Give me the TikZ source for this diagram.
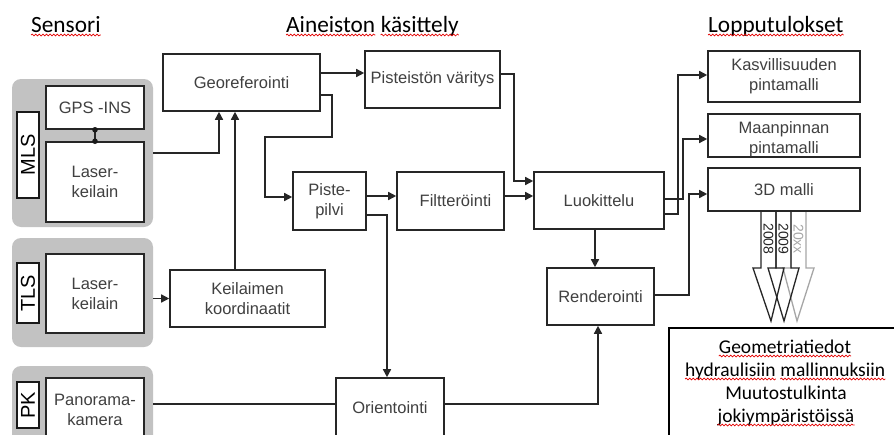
\documentclass[tikz,border=0pt]{standalone}
\usepackage{fontspec}
\newfontfamily\af{Liberation Sans}
\newfontfamily\cf{Carlito}
\usetikzlibrary{arrows.meta,decorations.pathmorphing}
\newcommand\bigarr[5]{%
  \draw[line width=1.3pt, draw=#3] (#1,212) -- (#1,268) -- (#1-8,268) -- (#2,321) -- (#1+23,268) -- (#1+15,268) -- (#1+15,212);
  \node[rotate=-90, inner sep=0pt, font=\af\fontsize{14}{14}\selectfont, text=#3] (#5) at (#1+7.5,239) {#4};
}
\begin{document}
\begin{tikzpicture}[x=1pt,y=-1pt,
  grp/.style={fill=black!24, rounded corners=9pt, inner sep=0pt},
  box/.style={draw=black!85, line width=1.6pt, fill=white, inner sep=0pt, align=center,
    font=\af\fontsize{16.5}{20}\selectfont, text=black!75},
  boxtxt/.style={inner sep=0pt, align=center, font=\af\fontsize{16.5}{20}\selectfont, text=black!75},
  lbl/.style={draw=black!90, line width=1.6pt, fill=white, inner sep=0pt, rotate=90,
    font=\af\fontsize{20}{20}\selectfont, text=black},
  arr/.style={line width=1.5pt, draw=black!85, -{Triangle[length=8pt,width=8pt]}},
  conn/.style={line width=1.5pt, draw=black!85},
  hdr/.style={inner sep=0pt, anchor=base west, font=\cf\fontsize{23.3}{28}\selectfont},
  fin/.style={inner sep=0pt, font=\cf\fontsize{19.5}{23}\selectfont},
  wavy/.style={draw=red!90!black, line width=0.7pt, decorate,
    decoration={snake, amplitude=0.9pt, segment length=3.6pt}}
]
\useasboundingbox (0,0) rectangle (894,434);
\clip (0,0) rectangle (894,434);
\fill[white] (0,0) rectangle (894,434);

% headers
\node[hdr] (hsens) at (31,32) {Sensori};
\node[hdr] (hain1) at (286,32) {Aineiston};
\node[hdr] (hain2) at ([xshift=5.3pt]hain1.base east) {käsittely};
\node[hdr] (hlop) at (708,32) {Lopputulokset};
\foreach \w in {hsens,hain1,hain2,hlop}
  \draw[wavy] ([yshift=-3pt]\w.base west) -- ([yshift=-3pt]\w.base east);

% sensor groups
\node[grp, minimum width=141pt, minimum height=148pt] (mlsg) at (82.5,153) {};
\node[grp, minimum width=141pt, minimum height=109pt] (tlsg) at (82.5,292.5) {};
\node[grp, minimum width=141pt, minimum height=114pt] (pkg) at (82.5,423) {};

\node[box, minimum width=98pt, minimum height=43pt] (gps) at (95,107.5) {GPS -INS};
\node[box, minimum width=98pt, minimum height=80pt] (mlslas) at (95,182) {Laser-\\keilain};
\node[lbl, minimum width=86pt, minimum height=22pt] (mlsl) at (28,155) {MLS};
\node[box, minimum width=98pt, minimum height=79pt] (tlslas) at (95,293.5) {Laser-\\keilain};
\node[lbl, minimum width=60pt, minimum height=22pt] (tlsl) at (28,293) {TLS};
\node[box, minimum width=98pt, minimum height=64pt] (pan) at (95,410) {Panorama-\\kamera};
\node[lbl, minimum width=46pt, minimum height=22pt] (pkl) at (28,405) {PK};

\draw[conn] (gps.south) -- (mlslas.north);
\fill[black!90] (gps.south) circle (2.8pt);
\fill[black!90] (mlslas.north) circle (2.8pt);

% processing
\node[box, minimum width=157pt, minimum height=57pt] (geo) at (241.5,82.5) {Georeferointi};
\node[box, minimum width=135pt, minimum height=57pt] (var) at (432.5,79.5) {Pisteistön väritys};
\node[box, minimum width=73pt, minimum height=58pt] (pil) at (329.5,201) {Piste-\\pilvi};
\node[box, minimum width=107pt, minimum height=58pt] (fil) at (450.5,201) {\hspace*{10pt}Filtteröinti};
\node[box, minimum width=130pt, minimum height=57pt] (luo) at (599,200.5) {Luokittelu};
\node[box, minimum width=155pt, minimum height=57pt] (kei) at (247.5,298.5) {Keilaimen\\koordinaatit};
\node[box, minimum width=108pt, minimum height=60pt] (ori) at (390,408) {Orientointi};
\node[box, minimum width=107pt, minimum height=57pt] (ren) at (600.5,296.5) {Renderointi};

% results
\node[box, minimum width=152pt, minimum height=51pt] (kas) at (784,76.5) {Kasvillisuuden\\pintamalli};
\node[box, minimum width=152pt, minimum height=43pt] (maa) at (784,135.5) {};
\node[boxtxt] (maat) at (784,139) {Maanpinnan\\pintamalli};
\node[box, minimum width=152pt, minimum height=43pt] (d3) at (784,189.5) {3D malli};

% connectors
\draw[arr] (mlsg.east |- 0,153) -| (geo.south -| 219,0);
\draw[arr] (kei.north -| 235,0) -- (geo.south -| 235,0);
\draw[arr] (tlsg.east |- kei.west) -- (kei.west);
\draw[arr] (geo.east |- 0,73) -- (var.west |- 0,73);
\draw[arr] (geo.east |- 0,95) -| (332,137) -| (265,197) -- (pil.west |- 0,197);
\draw[arr] (pil.east |- 0,196) -- (fil.west |- 0,196);
\draw[arr] (fil.east |- 0,196) -- (luo.west |- 0,196);
\draw[arr] (var.east |- 0,74) -| (514,181) -- (luo.west |- 0,181);
\draw[arr] (pil.east |- 0,215) -| (ori.north -| 387,0);
\draw[conn] (pkg.east |- 0,404) -- (ori.west |- 0,404);
\draw[arr] (ori.east |- 0,404) -| (ren.south -| 598,0);
\draw[arr] (luo.south -| 595,0) -- (ren.north -| 595,0);
\draw[arr] (ren.east |- 0,295) -| (689,194) -- (d3.west |- 0,194);
\draw[arr] (luo.east |- 0,199) -| (683,139) -- (maa.west |- 0,139);
\draw[arr] (luo.east |- 0,214) -| (678,75) -- (kas.west |- 0,75);

% time arrows
\bigarr{791}{797}{black!35}{20xx}{yxx}
\bigarr{776}{784}{black!85}{2009}{y09}
\bigarr{761}{771}{black!85}{2008}{y08}

% final box
\node[draw=black, line width=1.8pt, minimum width=240pt, minimum height=130pt, inner sep=0pt, anchor=north west] (finbox) at (668,327) {};
\node[fin, anchor=base] (f1) at (785,353) {Geometriatiedot};
\node[fin, anchor=base west] (f2a) at (685,376) {hydraulisiin};
\node[fin, anchor=base west] (f2b) at ([xshift=4.4pt]f2a.base east) {mallinnuksiin};
\node[fin, anchor=base] (f3) at (786,399.5) {Muutostulkinta};
\node[fin, anchor=base] (f4) at (786,422) {jokiympäristöissä};
\foreach \w in {f1,f2a,f2b,f4}
  \draw[wavy] ([yshift=-3pt]\w.base west) -- ([yshift=-3pt]\w.base east);
\end{tikzpicture}
\end{document}
